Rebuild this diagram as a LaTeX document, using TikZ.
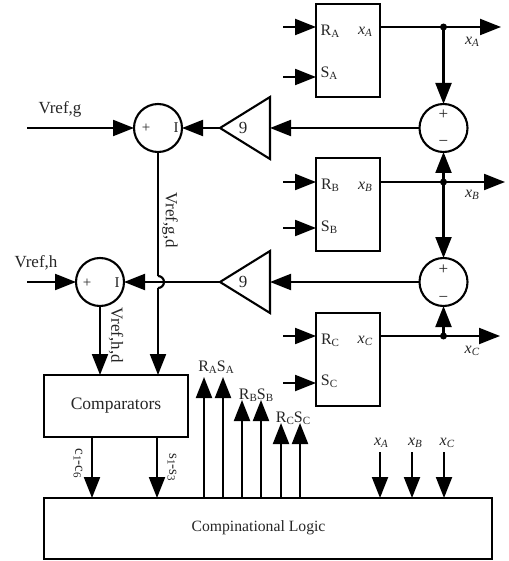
\documentclass[tikz,border=0pt]{standalone}
\usepackage{fontspec}
\setmainfont{Liberation Serif}
\usetikzlibrary{arrows.meta}
\tikzset{
  x=1pt,y=-1pt,
  wire/.style={line width=2.1pt,draw=black},
  sig/.style={wire,-{Triangle[length=21pt,width=16pt]}},
  bx/.style={draw=black,line width=2.1pt,fill=white,rectangle,inner sep=0,outer sep=0},
  sumc/.style={draw=black,line width=2.1pt,fill=white,circle,minimum size=48pt,inner sep=0,outer sep=0},
  txt/.style={font=\fontsize{16}{16}\selectfont,inner sep=0,text=black!85},
  big/.style={font=\fontsize{17}{17}\selectfont,inner sep=0,text=black!85},
  small/.style={font=\fontsize{15}{15}\selectfont,inner sep=0,text=black!85},
  dot/.style={circle,fill=black,minimum size=7pt,inner sep=0},
  gain/.style={draw=black,line width=2.1pt,fill=white}
}
\newcommand{\Sb}[2]{#1\raisebox{-0.25ex}{\fontsize{11}{11}\selectfont #2}}
\newcommand{\Xs}[1]{\textit{x}\raisebox{-0.25ex}{\fontsize{11}{11}\selectfont\textit{#1}}}
\begin{document}
\begin{tikzpicture}
\useasboundingbox (0,0) rectangle (508,561);
\fill[white] (0,0) rectangle (508,561);
% boxes
\node[bx,minimum width=64pt,minimum height=93pt] (A) at (348,50.5) {};
\node[bx,minimum width=64pt,minimum height=93pt] (B) at (348,204.5) {};
\node[bx,minimum width=64pt,minimum height=93pt] (C) at (348,359.5) {};
\node[bx,minimum width=144pt,minimum height=62pt,font=\fontsize{17.5}{17.5}\selectfont,text=black!85] (cmp) at (116,406) {Comparators};
\node[bx,minimum width=448pt,minimum height=61pt] (logic) at (268,528.5) {};
\node[font=\fontsize{15.7}{15.7}\selectfont,inner sep=0,text=black!85] at (258.5,528) {Compinational Logic};
% summers
\node[sumc] (s1) at (443.5,128) {};
\node[sumc] (s2) at (443.5,282) {};
\node[sumc] (sg) at (158,128) {};
\node[sumc] (sh) at (100,282) {};
\node[big] at (443.5,115) {+};
\node[big] at (443.5,143) {−};
\node[big] at (443.5,270) {+};
\node[big] at (443.5,299) {−};
\node[small] at (146,128) {+};
\node[small] at (176,128) {I};
\node[small] at (87,283) {+};
\node[small] at (117,283) {I};
% gains
\coordinate (g1t) at (220,128); \coordinate (g1b) at (270,128);
\coordinate (g2t) at (220,282); \coordinate (g2b) at (270,282);
\draw[gain] (g1b) ++(0,-31) -- (g1t) -- (270,159) -- cycle;
\draw[gain] (g2b) ++(0,-31) -- (g2t) -- (270,313) -- cycle;
\node[big] at (243,128) {9};
\node[big] at (243,282) {9};
% junctions
\coordinate (ja) at (443.5,27); \coordinate (jb) at (443.5,182); \coordinate (jc) at (443.5,336);
\coordinate (oa) at (501,27); \coordinate (ob) at (505,182); \coordinate (oc) at (500,336);
\draw[sig] (A.east |- ja) -- (oa);
\draw[sig] (B.east |- jb) -- (ob);
\draw[sig] (C.east |- jc) -- (oc);
\draw[sig] (ja) -- (s1.north);
\draw[sig] (jb) -- (s1.south);
\draw[sig] (jb) -- (s2.north);
\draw[sig] (jc) -- (s2.south);
\node[dot] at (ja) {}; \node[dot] at (jb) {}; \node[dot] at (jc) {};
\draw[sig] (s1.west) -- (g1b);
\draw[sig] (s2.west) -- (g2b);
\draw[sig] (g1t) -- (sg.east);
% inputs
\foreach \n/\y in {ra/27,sa/77,rb/182,sb/228,rc/336,sc/383}{\coordinate (\n) at (283,\y);}
\draw[sig] (ra) -- (A.west |- ra);
\draw[sig] (sa) -- (A.west |- sa);
\draw[sig] (rb) -- (B.west |- rb);
\draw[sig] (sb) -- (B.west |- sb);
\draw[sig] (rc) -- (C.west |- rc);
\draw[sig] (sc) -- (C.west |- sc);
\coordinate (vg) at (27,128); \coordinate (vh) at (27,282);
\draw[sig] (vg) -- (sg.west);
\draw[sig] (vh) -- (sh.west);
% second-gain line to h summer with hop
\draw[sig] (g2t) -- (sh.east);
% vertical lines
\coordinate (hop1) at (158,276); \coordinate (hop2) at (158,288);
\draw[wire] (sg.south) -- (hop1);
\draw[wire] (hop1) arc[start angle=90,end angle=-90,radius=6pt];
\draw[sig] (hop2) -- (cmp.north -| sg);
\draw[sig] (sh.south) -- (cmp.north -| sh);
% comparator outputs
\coordinate (c1) at (92,437); \coordinate (s3) at (157,437);
\draw[sig] (c1) -- (logic.north -| c1);
\draw[sig] (s3) -- (logic.north -| s3);
% up arrows
\foreach \n/\x/\t in {a/204/377,b/223/377,c/242/400,d/261/400,e/281/423,f/300/423}{
  \coordinate (t\n) at (\x,\t);
  \draw[sig] (logic.north -| t\n) -- (t\n);
}
% x arrows
\foreach \n/\x in {p/380,q/412,r/444}{
  \coordinate (t\n) at (\x,452);
  \draw[sig] (t\n) -- (logic.north -| t\n);
}
% labels
\node[big] at (60,109) {Vref,g};
\node[big] at (36,263) {Vref,h};
\node[big,rotate=-90] at (170,220) {Vref,g,d};
\node[big,rotate=-90] at (116,335) {Vref,h,d};
\node[small,rotate=-90] at (78,463) {\Sb{c}{1}-\Sb{c}{6}};
\node[small,rotate=-90] at (172,467) {\Sb{s}{1}-\Sb{s}{3}};
\node[txt] at (330,31) {\Sb{R}{A}};
\node[txt] at (329,73) {\Sb{S}{A}};
\node[txt] at (330,185) {\Sb{R}{B}};
\node[txt] at (329,227) {\Sb{S}{B}};
\node[txt] at (330,340) {\Sb{R}{C}};
\node[txt] at (329,381) {\Sb{S}{C}};
\node[txt] at (365,32) {\Xs{A}};
\node[txt] at (365,187) {\Xs{B}};
\node[txt] at (365,341) {\Xs{C}};
\node[txt] at (472,42) {\Xs{A}};
\node[txt] at (472,195) {\Xs{B}};
\node[txt] at (472,351) {\Xs{C}};
\node[txt] at (216,367) {\Sb{R}{A}\Sb{S}{A}};
\node[txt] at (256,395) {\Sb{R}{B}\Sb{S}{B}};
\node[txt] at (293,418) {\Sb{R}{C}\Sb{S}{C}};
\node[txt] at (381,443) {\Xs{A}};
\node[txt] at (415,443) {\Xs{B}};
\node[txt] at (447,443) {\Xs{C}};
\end{tikzpicture}
\end{document}
